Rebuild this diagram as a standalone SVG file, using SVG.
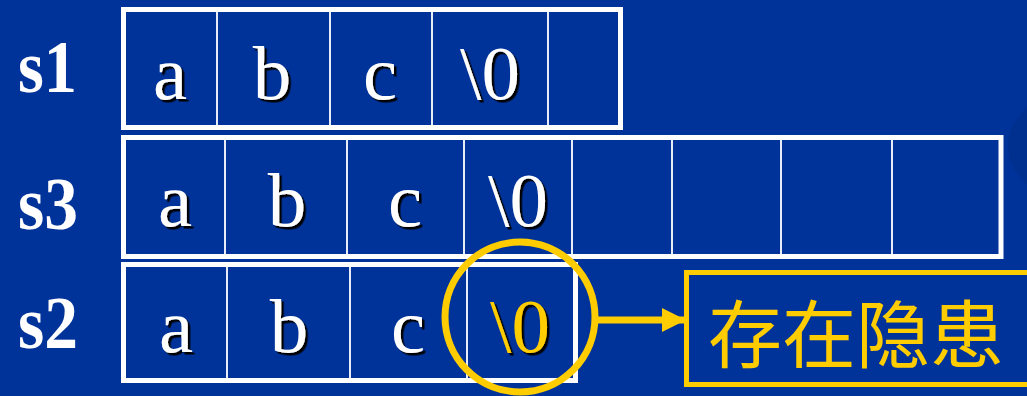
<svg xmlns="http://www.w3.org/2000/svg" width="1027" height="396" viewBox="0 0 1027 396">
  <defs>
    <style>
      .frame { fill: #003399; stroke: #ffffff; stroke-width: 5; }
      .cellline { stroke: #e8ecf6; stroke-width: 2; }
      .name { font-family: "Liberation Serif", "Times New Roman", serif; font-weight: bold; font-size: 74px; fill: #ffffff; }
      .ch { font-family: "Liberation Serif", "Times New Roman", serif; font-size: 77px; fill: #ffffff; text-anchor: middle; filter: url(#shadow); }
      .hot { fill: #ffcc00; }
      .ring { fill: none; stroke: #ffcc00; stroke-width: 7; }
      .note { fill: #003399; stroke: #ffcc00; stroke-width: 5; }
      .notetext { font-family: "Noto Sans CJK SC", "Noto Sans", sans-serif; font-size: 74px; fill: #ffcc00; }
      .link { stroke: #ffcc00; stroke-width: 7; fill: none; }
    </style>
    <filter id="shadow" x="-20%" y="-20%" width="150%" height="150%">
      <feDropShadow dx="2.5" dy="2.5" stdDeviation="0.4" flood-color="#000000" flood-opacity="1"/>
    </filter>
    <marker id="head" viewBox="0 0 24 24" refX="23" refY="12" markerWidth="24" markerHeight="24" markerUnits="userSpaceOnUse" orient="auto">
      <path d="M0,0 L24,12 L0,24 Z" fill="#ffcc00"/>
    </marker>
  </defs>

  <!-- slide background -->
  <rect x="0" y="0" width="1027" height="396" fill="#003399"/>
  <ellipse cx="1062" cy="146" rx="54" ry="50" fill="#00308f"/>

  <!-- s1: char array of 5 -->
  <g id="s1">
    <text class="name" x="18" y="92" textLength="59" lengthAdjust="spacingAndGlyphs">s1</text>
    <rect class="frame" x="123.5" y="9.5" width="497" height="118"/>
    <line class="cellline" x1="217" y1="12" x2="217" y2="125"/>
    <line class="cellline" x1="330" y1="12" x2="330" y2="125"/>
    <line class="cellline" x1="432" y1="12" x2="432" y2="125"/>
    <line class="cellline" x1="548" y1="12" x2="548" y2="125"/>
    <text class="ch" x="170" y="99">a</text>
    <text class="ch" x="272" y="99">b</text>
    <text class="ch" x="380" y="99">c</text>
    <text class="ch" x="490" y="99">\0</text>
  </g>

  <!-- s3: char array of 8 -->
  <g id="s3">
    <text class="name" x="18" y="229" textLength="60" lengthAdjust="spacingAndGlyphs">s3</text>
    <rect class="frame" x="123.5" y="137.5" width="877.5" height="119"/>
    <line class="cellline" x1="225" y1="140" x2="225" y2="254"/>
    <line class="cellline" x1="347" y1="140" x2="347" y2="254"/>
    <line class="cellline" x1="464" y1="140" x2="464" y2="254"/>
    <line class="cellline" x1="572" y1="140" x2="572" y2="254"/>
    <line class="cellline" x1="672" y1="140" x2="672" y2="254"/>
    <line class="cellline" x1="781" y1="140" x2="781" y2="254"/>
    <line class="cellline" x1="892" y1="140" x2="892" y2="254"/>
    <text class="ch" x="175" y="226">a</text>
    <text class="ch" x="287" y="226">b</text>
    <text class="ch" x="405" y="226">c</text>
    <text class="ch" x="518" y="226">\0</text>
  </g>

  <!-- s2: char array of 4, terminator in the last cell -->
  <g id="s2">
    <text class="name" x="18" y="348" textLength="60" lengthAdjust="spacingAndGlyphs">s2</text>
    <rect class="frame" x="123.5" y="264.5" width="452" height="116"/>
    <line class="cellline" x1="227" y1="267" x2="227" y2="378"/>
    <line class="cellline" x1="350" y1="267" x2="350" y2="378"/>
    <line class="cellline" x1="467" y1="267" x2="467" y2="378"/>
    <text class="ch" x="176" y="352">a</text>
    <text class="ch" x="289" y="352">b</text>
    <text class="ch" x="408" y="352">c</text>
    <text class="ch hot" x="520" y="352">\0</text>
  </g>

  <!-- highlight ring round the terminator -->
  <g id="ring">
    <circle class="ring" cx="520" cy="317" r="75"/>
  </g>

  <!-- warning note -->
  <g id="note">
    <rect class="note" x="686.5" y="272.5" width="400" height="112"/>
    <text class="notetext" x="708" y="362">存在隐患</text>
  </g>

  <!-- connectors -->
  <g id="connectors">
    <line class="link" x1="596" y1="320" x2="685" y2="320" marker-end="url(#head)"/>
  </g>
</svg>
